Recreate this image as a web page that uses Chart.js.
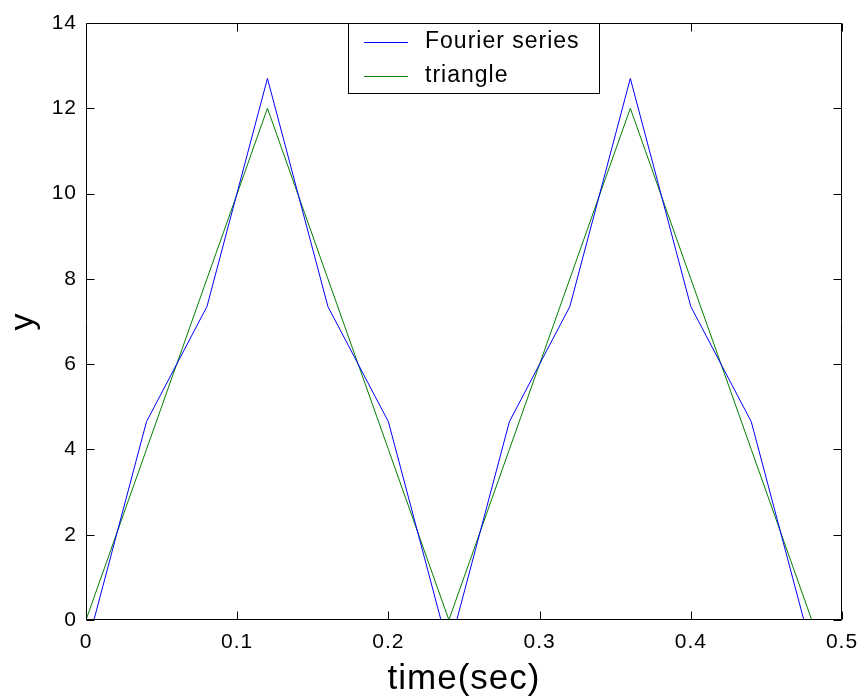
<!DOCTYPE html>
<html>
<head>
<meta charset="utf-8">
<script src="https://cdn.jsdelivr.net/npm/chart.js@4"></script>
<style>
html,body{margin:0;padding:0;background:#fff;}
#c{display:block;}
</style>
</head>
<body>
<canvas id="c" width="862" height="700" style="width:862px;height:700px"></canvas>
<script>
// ---- data ----
const timeSec  = [0, 0.04, 0.08, 0.12, 0.16, 0.20, 0.24, 0.28, 0.32, 0.36, 0.40, 0.44, 0.48];
const fourier  = [-0.7, 4.65, 7.35, 12.7, 7.35, 4.65, -0.7, 4.65, 7.35, 12.7, 7.35, 4.65, -0.7];
const triangle = [0, 4, 8, 12, 8, 4, 0, 4, 8, 12, 8, 4, 0];
const xTicks = [0, 0.1, 0.2, 0.3, 0.4, 0.5];
const yTicks = [0, 2, 4, 6, 8, 10, 12, 14];
const seriesNames = ['Fourier series', 'triangle'];

const FONT = '"Liberation Sans", Arial, Helvetica, sans-serif';

const framePlugin = {
  id: 'frame',
  beforeDraw(chart) {
    chart.ctx.letterSpacing = '1px';
  },
  afterDatasetsDraw(chart) {
    const {ctx, chartArea: a, scales} = chart;
    const L = Math.round(a.left) + 0.5, R = Math.round(a.right) - 0.5;
    const T = Math.round(a.top) + 0.5, B = Math.round(a.bottom) - 0.5;
    ctx.save();
    ctx.strokeStyle = '#000';
    ctx.lineWidth = 1;
    ctx.beginPath();
    ctx.rect(L, T, R - L, B - T);
    ctx.stroke();
    const tl = 8;
    ctx.beginPath();
    xTicks.forEach(v => {
      const px = Math.round(scales.x.getPixelForValue(v)) + 0.5;
      ctx.moveTo(px, B); ctx.lineTo(px, B - tl);
      ctx.moveTo(px, T); ctx.lineTo(px, T + tl);
    });
    yTicks.forEach(v => {
      const py = Math.round(scales.y.getPixelForValue(v)) + 0.5;
      ctx.moveTo(L, py); ctx.lineTo(L + tl, py);
      ctx.moveTo(R, py); ctx.lineTo(R - tl, py);
    });
    ctx.stroke();

    // legend box inside the plot, top centre
    const bx = 348.5, by = T, bw = 251, bh = 70;
    ctx.fillStyle = '#fff';
    ctx.fillRect(bx, by, bw, bh);
    ctx.strokeRect(bx, by, bw, bh);
    const rows = [42.5, 76.5];
    ctx.font = '23px ' + FONT;
    ctx.letterSpacing = '1px';
    ctx.textBaseline = 'alphabetic';
    ctx.textAlign = 'left';
    chart.data.datasets.forEach((ds, i) => {
      ctx.strokeStyle = ds.borderColor;
      ctx.lineWidth = 1;
      ctx.beginPath();
      ctx.moveTo(364, rows[i]);
      ctx.lineTo(408, rows[i]);
      ctx.stroke();
      ctx.fillStyle = '#000';
      ctx.fillText(ds.label, 425, rows[i] + 5.5);
    });
    ctx.restore();
  }
};

new Chart(document.getElementById('c'), {
  type: 'line',
  data: {
    datasets: [
      {
        label: seriesNames[0],
        data: timeSec.map((t, i) => ({x: t, y: fourier[i]})),
        borderColor: '#0000ff',
        borderWidth: 1,
        pointRadius: 0,
        tension: 0,
        fill: false
      },
      {
        label: seriesNames[1],
        data: timeSec.map((t, i) => ({x: t, y: triangle[i]})),
        borderColor: '#008000',
        borderWidth: 1,
        pointRadius: 0,
        tension: 0,
        fill: false
      }
    ]
  },
  options: {
    responsive: false,
    animation: false,
    devicePixelRatio: 1,
    layout: {padding: {top: 23, right: 20, left: 0, bottom: 0}},
    plugins: {legend: {display: false}, tooltip: {enabled: false}},
    scales: {
      x: {
        type: 'linear',
        min: 0, max: 0.5,
        afterBuildTicks: s => { s.ticks = xTicks.map(v => ({value: v})); },
        afterFit: s => { s.height = 80; s.paddingRight = 0; s.paddingLeft = 0; },
        grid: {display: false, drawTicks: false},
        border: {display: false},
        ticks: {
          color: '#000', padding: 10, maxRotation: 0, autoSkip: false,
          font: {family: FONT, size: 21},
          callback: v => String(v)
        },
        title: {
          display: true, text: 'time(sec)', color: '#000',
          font: {family: FONT, size: 35, lineHeight: 1},
          padding: {top: 0, bottom: 3}
        }
      },
      y: {
        min: 0, max: 14,
        afterBuildTicks: s => { s.ticks = yTicks.map(v => ({value: v})); },
        afterFit: s => { s.width = 86; s.paddingTop = 0; s.paddingBottom = 0; },
        grid: {display: false, drawTicks: false},
        border: {display: false},
        ticks: {
          color: '#000', padding: 9,
          font: {family: FONT, size: 21},
          callback: v => String(v)
        },
        title: {
          display: true, text: 'y', color: '#000',
          font: {family: FONT, size: 34, lineHeight: 1},
          padding: {top: 7, bottom: 0}
        }
      }
    }
  },
  plugins: [framePlugin]
});
</script>
</body>
</html>
